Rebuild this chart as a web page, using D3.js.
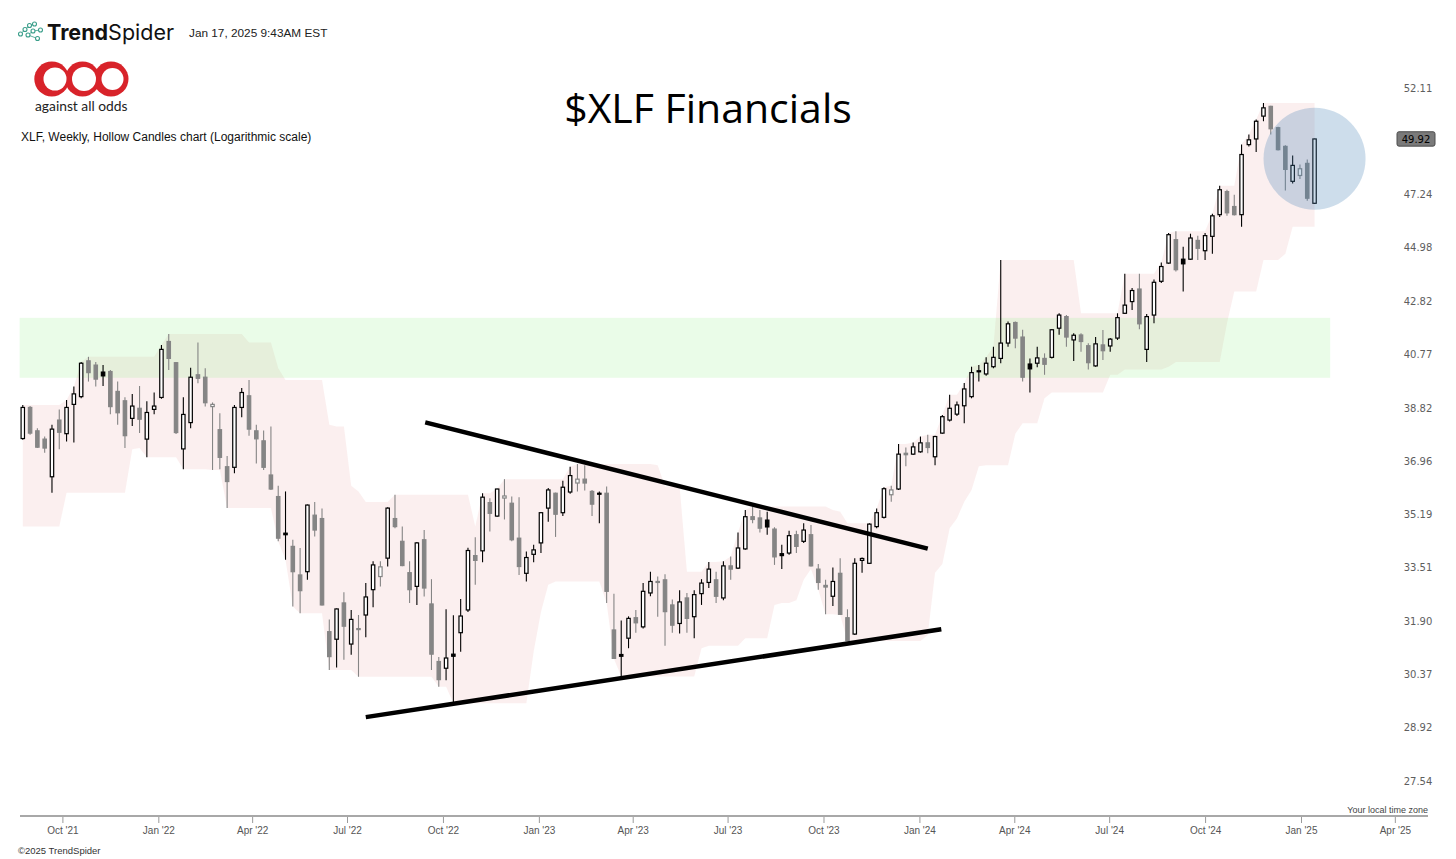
<!DOCTYPE html>
<html><head><meta charset="utf-8">
<script src="https://cdn.jsdelivr.net/npm/d3@7"></script>
<style>body{margin:0;background:#fff;} svg{display:block;}</style>
</head><body>
<svg id="c" width="1456" height="859"></svg>
<script>
// ---------------- DATA ----------------
const firstWeek = "2021-08-23"; // Monday of first weekly candle
const opens = [37.89,38.99,38.16,37.87,36.58,38.54,38.06,39.10,39.38,40.70,
40.54,40.28,40.30,39.57,39.23,38.60,38.96,37.87,38.92,39.35,
41.43,40.63,37.53,38.45,40.18,40.09,39.02,38.20,36.92,36.90,
38.99,39.41,38.16,37.81,36.64,35.92,34.73,34.31,33.42,33.52,
35.31,35.20,31.72,31.50,32.57,31.36,31.79,32.21,32.97,33.37,
33.94,35.20,34.47,33.49,33.07,34.52,32.54,30.86,30.67,31.07,
31.69,32.36,34.02,34.17,35.72,35.28,35.87,35.70,34.57,33.47,
34.06,34.42,35.54,36.03,35.39,36.07,36.37,36.50,36.09,36.03,
36.03,31.77,31.06,31.53,32.13,31.86,32.87,33.22,33.27,32.51,
31.96,32.72,32.16,32.85,33.19,33.27,32.72,33.70,33.63,34.23,
35.26,35.22,35.15,34.86,34.08,34.10,34.68,34.47,34.68,33.60,
33.10,32.77,33.47,32.13,31.65,33.87,33.78,34.94,35.24,35.98,
36.17,37.38,37.35,37.43,37.74,37.26,38.08,38.54,38.75,39.05,
39.38,40.29,40.21,40.48,40.79,41.37,42.16,41.60,40.58,40.61,
40.79,40.83,41.94,42.39,41.49,41.68,41.27,40.51,41.30,41.26,
41.56,42.52,42.98,43.48,41.13,42.45,43.79,44.53,45.50,44.69,
44.69,45.47,45.04,45.64,46.56,47.56,46.91,46.56,49.66,49.92,
50.98,51.44,50.44,49.58,48.01,48.27,48.81,47.05];
const highs = [39.08,39.04,38.25,37.96,38.37,38.92,39.26,39.75,40.66,40.85,
40.66,40.54,40.36,39.93,39.36,39.48,39.77,39.21,39.53,41.30,
41.72,40.66,39.36,40.44,41.39,40.42,39.17,38.78,37.29,39.08,
39.69,39.99,38.37,38.17,38.31,36.28,36.09,34.52,34.26,35.66,
35.74,35.53,32.08,32.40,32.89,32.36,32.21,33.17,33.84,33.84,
35.57,35.98,34.94,33.84,34.45,34.83,33.29,30.99,32.38,32.20,
32.69,34.27,34.60,36.03,35.86,36.18,36.50,35.92,35.90,34.15,
34.36,35.40,36.20,36.05,36.45,36.92,37.01,36.97,36.14,36.09,
36.25,32.85,32.05,32.17,32.36,33.17,33.52,33.37,33.44,32.67,
32.95,32.87,32.95,33.29,33.82,33.52,33.84,33.99,34.75,35.48,
35.59,35.48,35.42,34.92,34.36,34.81,34.81,35.05,34.99,33.76,
33.27,33.65,33.94,32.38,33.94,33.96,35.05,35.53,36.23,36.28,
37.70,37.58,37.75,37.96,38.02,37.99,38.72,39.45,39.20,39.88,
40.48,40.54,40.83,41.23,44.66,42.20,42.20,41.88,40.79,41.23,
40.98,41.90,42.52,42.45,41.75,41.75,41.36,41.60,41.87,41.56,
42.52,44.10,43.52,44.10,42.49,43.86,44.55,45.78,45.85,45.21,
45.75,45.67,45.78,46.60,47.82,47.64,47.42,49.66,50.12,50.82,
51.60,51.47,50.48,49.63,49.16,48.76,48.99,49.93];
const lows = [37.85,38.02,37.56,37.40,36.05,37.52,37.79,37.75,39.32,39.93,
39.75,39.77,38.75,38.37,37.56,38.33,38.08,37.24,38.75,39.30,
40.36,38.05,36.83,38.25,39.87,39.02,36.81,36.83,35.54,36.70,
38.64,37.99,37.03,36.81,36.14,34.47,33.89,32.46,32.26,33.27,
34.62,32.49,30.62,30.69,30.91,31.05,30.43,31.56,32.44,33.07,
33.68,34.89,33.69,32.57,32.51,32.76,30.62,30.15,30.33,29.70,
31.14,32.30,33.12,33.81,34.78,35.26,35.17,34.47,33.42,33.22,
33.81,34.10,35.10,34.61,35.28,36.01,36.09,36.12,35.28,35.05,
32.57,30.94,30.44,31.24,31.69,31.81,32.77,32.16,31.31,31.69,
31.67,31.69,31.53,32.51,33.02,32.57,32.65,33.27,33.60,34.20,
35.05,34.75,34.68,33.73,33.60,34.05,34.10,34.42,33.68,32.97,
32.23,32.48,32.21,31.45,31.62,33.49,33.76,34.89,35.20,35.75,
36.14,36.94,37.32,37.40,37.38,36.97,38.06,38.49,38.68,38.43,
39.32,39.93,40.14,40.42,40.61,41.23,41.17,39.93,39.53,40.46,
40.18,40.79,41.69,41.23,40.69,41.04,40.38,40.48,40.73,41.04,
41.49,42.49,42.65,41.90,40.66,42.13,43.72,44.50,44.19,43.38,
44.66,44.66,44.66,44.91,46.46,46.51,46.52,46.04,49.58,49.32,
50.74,50.12,49.39,47.61,47.91,48.11,47.16,47.03];
const closes = [38.99,38.08,37.59,37.56,38.22,38.11,38.99,39.48,40.61,40.26,
40.02,40.14,39.02,38.80,37.99,39.04,38.57,38.81,39.04,41.13,
40.79,38.10,38.74,40.09,40.05,39.16,39.10,37.24,36.42,38.99,
39.53,38.22,37.88,36.90,36.17,34.57,34.68,33.52,32.94,35.64,
34.83,32.51,31.00,32.39,31.88,32.08,31.81,32.75,33.73,33.67,
35.54,34.94,33.71,32.97,34.42,33.02,31.07,30.35,30.96,31.01,
32.18,34.18,33.87,35.90,35.37,36.17,35.94,34.52,33.68,33.96,
34.20,35.39,36.14,35.34,36.23,36.62,36.50,36.37,35.67,36.00,
32.92,30.95,31.01,32.11,31.98,32.92,33.22,33.19,32.31,31.91,
32.60,32.11,32.82,33.17,33.60,32.77,33.70,33.60,34.26,35.26,
35.17,34.89,34.93,33.98,34.02,34.65,34.31,34.83,33.70,33.19,
33.05,33.22,32.23,31.46,33.78,33.93,35.02,35.39,36.18,36.14,
37.35,37.33,37.60,37.74,37.58,37.96,38.66,38.96,39.08,39.66,
40.26,40.33,40.61,40.83,41.37,42.11,41.56,40.09,40.40,40.81,
40.57,41.88,42.45,41.60,41.67,41.43,40.63,41.34,41.08,41.52,
42.35,42.84,43.42,42.11,42.39,43.75,44.39,45.71,44.26,44.50,
45.57,45.14,45.67,46.51,47.64,46.64,46.56,49.21,49.88,50.74,
51.37,50.39,49.43,48.54,48.72,48.57,47.27,49.92];
// ten weeks before the first candle (only used by the price channel band)
const priorHighs = [38.85,38.10,37.55,37.70,37.40,36.95,37.30,38.20,38.70,38.60];
const priorLows  = [37.50,35.95,36.40,36.10,35.70,34.94,36.25,36.60,37.60,37.45];
const channelLength = 11;
const priceTicks = [52.11,47.24,44.98,42.82,40.77,38.82,36.96,35.19,33.51,31.90,30.37,28.92,27.54];
const timeTicks = ["2021-10-01","2022-01-01","2022-04-01","2022-07-01","2022-10-01","2023-01-01","2023-04-01","2023-07-01","2023-10-01","2024-01-01","2024-04-01","2024-07-01","2024-10-01","2025-01-01","2025-04-01"];
const lastPrice = 49.92;
const zoneLow = 40.07, zoneHigh = 42.34, zoneFrom = "2021-08-21", zoneTo = "2025-01-29";
const upperTrend = [["2022-09-14",38.46],["2024-01-09",34.24]];
const lowerTrend = [["2022-07-19",29.32],["2024-01-22",31.79]];
const focusDate = "2025-01-14", focusPrice = 49.02;

// ---------------- SCALES ----------------
const parse = d3.timeParse("%Y-%m-%d");
const svg = d3.select("#c");
const x = d3.scaleTime().domain([parse("2021-10-01"), parse("2025-01-01")]).range([62.4, 1301]);
const y = d3.scaleLog().domain([27.54, 52.11]).range([785.2, 92.3]);

const start = parse(firstWeek);
const candles = opens.map((o, i) => ({
  date: d3.timeDay.offset(d3.timeMonday.offset(start, i), 1),
  o, h: highs[i], l: lows[i], c: closes[i],
  prev: i > 0 ? closes[i - 1] : null
}));
const allH = priorHighs.concat(highs), allL = priorLows.concat(lows);
const band = candles.map((d, i) => ({
  date: d.date,
  hi: d3.max(allH.slice(i + priorHighs.length - channelLength + 1, i + priorHighs.length + 1)),
  lo: d3.min(allL.slice(i + priorLows.length - channelLength + 1, i + priorLows.length + 1))
}));

// ---------------- BAND + ZONE ----------------
svg.append("path").datum(band)
  .attr("d", d3.area().x(d => x(d.date)).y0(d => y(d.lo)).y1(d => y(d.hi)))
  .attr("fill", "rgba(240,188,188,0.24)");
svg.append("rect")
  .attr("x", x(parse(zoneFrom))).attr("width", x(parse(zoneTo)) - x(parse(zoneFrom)))
  .attr("y", y(zoneHigh)).attr("height", y(zoneLow) - y(zoneHigh))
  .attr("fill", "rgba(140,240,130,0.18)");

// ---------------- CANDLES ----------------
const bw = 4.6;
const g = svg.append("g");
candles.forEach(d => {
  const up = d.c > d.o;
  const col = (d.prev === null || d.c >= d.prev) ? "#000" : "#858585";
  const cx = x(d.date);
  g.append("line").attr("x1", cx).attr("x2", cx).attr("y1", y(d.h)).attr("y2", y(d.l))
    .attr("stroke", col).attr("stroke-width", 1.1);
  const top = y(Math.max(d.o, d.c)), bot = y(Math.min(d.o, d.c));
  g.append("rect").attr("x", cx - bw / 2 + 0.6).attr("width", bw - 1.2)
    .attr("y", top).attr("height", Math.max(1, bot - top))
    .attr("fill", up ? "#fff" : col).attr("stroke", col).attr("stroke-width", 1.2);
});

// ---------------- TRENDLINES ----------------
[upperTrend, lowerTrend].forEach(t => {
  svg.append("line")
    .attr("x1", x(parse(t[0][0]))).attr("y1", y(t[0][1]))
    .attr("x2", x(parse(t[1][0]))).attr("y2", y(t[1][1]))
    .attr("stroke", "#000").attr("stroke-width", 4.5);
});

// ---------------- FOCUS CIRCLE ----------------
svg.append("circle").attr("cx", x(parse(focusDate))).attr("cy", y(focusPrice)).attr("r", 51)
  .attr("fill", "rgba(70,130,180,0.27)");

// ---------------- AXES ----------------
svg.append("line").attr("x1", 20).attr("x2", 1428).attr("y1", 816).attr("y2", 816)
  .attr("stroke", "#a8a8a8").attr("stroke-width", 2);
const fmt = d3.timeFormat("%b '%y");
const xAxis = svg.append("g").attr("transform", "translate(0,817)")
  .call(d3.axisBottom(x).tickValues(timeTicks.map(parse)).tickFormat(fmt).tickSize(6).tickPadding(4));
xAxis.select(".domain").remove();
xAxis.selectAll(".tick line").attr("stroke", "#9a9a9a");
xAxis.selectAll(".tick text").attr("fill", "#555").attr("font-family", "Liberation Sans, Arial, sans-serif").attr("font-size", "10px");

const yAxis = svg.append("g").attr("transform", "translate(1418,0)")
  .call(d3.axisRight(y).tickValues(priceTicks).tickFormat(d3.format(".2f")).tickSize(0).tickPadding(0));
yAxis.select(".domain").remove();
yAxis.selectAll(".tick text").attr("text-anchor", "middle").attr("x", 0).attr("dy", null).attr("y", -1.2)
  .attr("fill", "#5e5e5e").attr("font-family", "DejaVu Sans, sans-serif").attr("font-size", "10px");

// last price tag
const ly = y(lastPrice);
svg.append("rect").attr("x", 1397).attr("y", ly - 7.2).attr("width", 38).attr("height", 14.4).attr("rx", 2)
  .attr("fill", "#7a7a7a").attr("stroke", "#4d4d4d").attr("stroke-width", 1);
svg.append("text").attr("x", 1416).attr("y", ly + 3.6).attr("text-anchor", "middle")
  .attr("font-family", "DejaVu Sans, sans-serif").attr("font-size", "10px").attr("fill", "#000").text(d3.format(".2f")(lastPrice));

svg.append("text").attr("x", 1428).attr("y", 813).attr("text-anchor", "end")
  .attr("font-family", "Liberation Sans, Arial, sans-serif").attr("font-size", "9px").attr("fill", "#444").text("Your local time zone");

// ---------------- HEADER ----------------
svg.append("text").attr("x", 708).attr("y", 123).attr("text-anchor", "middle")
  .attr("font-family", "Open Sans, sans-serif").attr("font-size", "41px").attr("fill", "#000").text("$XLF Financials");

// TrendSpider mark
const icon = svg.append("g").attr("fill", "none").attr("stroke", "#3a9e8a").attr("stroke-width", 1.1);
const dots = [[20.5,34],[25,29.5],[29.5,25.5],[34.5,24],[28,35],[33,31],[37.5,38.5],[40.5,30]];
[[0,1],[1,2],[2,3],[4,5],[5,7],[4,6]].forEach(p => icon.append("line")
  .attr("x1", dots[p[0]][0]).attr("y1", dots[p[0]][1]).attr("x2", dots[p[1]][0]).attr("y2", dots[p[1]][1]).attr("stroke-width", 0.8));
dots.forEach(d => icon.append("circle").attr("cx", d[0]).attr("cy", d[1]).attr("r", 2).attr("fill", "#fff"));
const ts = svg.append("text").attr("x", 47).attr("y", 40).attr("font-family", "Inter, sans-serif").attr("font-size", "21.5px").attr("fill", "#111");
ts.append("tspan").attr("font-weight", 700).text("Trend");
ts.append("tspan").attr("font-weight", 400).text("Spider");
svg.append("text").attr("x", 189).attr("y", 37).attr("font-family", "Liberation Sans, Arial, sans-serif").attr("font-size", "11.8px").attr("fill", "#222").text("Jan 17, 2025 9:43AM EST");

// against all odds logo
const red = "#d8232a";
[[51.8,79],[82.5,79],[111,79]].forEach(c => svg.append("circle").attr("cx", c[0]).attr("cy", c[1]).attr("r", 17.5).attr("fill", red));
[[55,79,11.5],[84,79,12],[112.5,79,11]].forEach(c => svg.append("circle").attr("cx", c[0]).attr("cy", c[1]).attr("r", c[2]).attr("fill", "#fff"));
svg.append("text").attr("x", 35).attr("y", 111).attr("font-family", "Lato, sans-serif").attr("font-size", "13.8px").attr("fill", "#222").text("against all odds");

svg.append("text").attr("x", 21).attr("y", 141).attr("font-family", "Liberation Sans, Arial, sans-serif").attr("font-size", "12px").attr("fill", "#111")
  .text("XLF, Weekly, Hollow Candles chart (Logarithmic scale)");
svg.append("text").attr("x", 18).attr("y", 854).attr("font-family", "Liberation Sans, Arial, sans-serif").attr("font-size", "9.5px").attr("fill", "#333").text("©2025 TrendSpider");
</script>
</body></html>
